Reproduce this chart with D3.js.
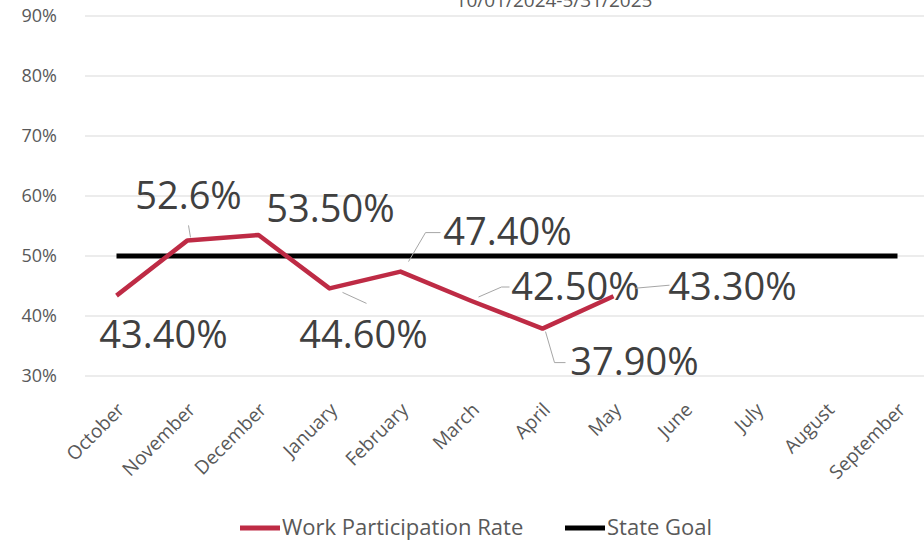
<!DOCTYPE html>
<html>
<head>
<meta charset="utf-8">
<script src="https://d3js.org/d3.v7.min.js"></script>
<style>
body { margin: 0; overflow: hidden; background: #fff; }
text { font-family: "Open Sans", sans-serif; }
.tick-y { font-size: 18px; fill: #595959; }
.tick-x { font-size: 19px; fill: #595959; }
.dlabel { font-size: 38px; fill: #404040; }
.leader { stroke: #a6a6a6; stroke-width: 1; fill: none; }
.legend text { font-size: 22px; fill: #595959; }
</style>
</head>
<body>
<svg width="924" height="542"></svg>
<script>
const months = ['October', 'November', 'December', 'January', 'February', 'March',
  'April', 'May', 'June', 'July', 'August', 'September'];
const rates = [0.434, 0.526, 0.535, 0.446, 0.474, 0.425, 0.379, 0.433];
const rateLabels = ['43.40%', '52.6%', '53.50%', '44.60%', '47.40%', '42.50%', '37.90%', '43.30%'];
const goal = [0.5, 0.5, 0.5, 0.5, 0.5, 0.5, 0.5, 0.5, 0.5, 0.5, 0.5, 0.5];
const yTicks = [0.3, 0.4, 0.5, 0.6, 0.7, 0.8, 0.9];
const subtitle = '10/01/2024-5/31/2025';

// label placement: offset of text centre/baseline from the point, plus leader polyline (relative)
const labelPos = [
  { dx: 47, dy: 52 },
  { dx: 1, dy: -31, leader: [[1, -15], [3, -3]] },
  { dx: 72, dy: -13 },
  { dx: 34, dy: 60, leader: [[13, 4], [37, 15]] },
  { dx: 107, dy: -27, leader: [[8, -10], [25, -39], [40, -39]] },
  { dx: 104, dy: -1, leader: [[7, -4], [30, -14], [38, -14]] },
  { dx: 92, dy: 46, leader: [[3, 3], [12, 34], [23, 34]] },
  { dx: 119, dy: 4, leader: [[22, -8], [56, -11]] }
];

const svg = d3.select('svg');
const W = 924;

const x = d3.scalePoint().domain(months).range([81, 933]).padding(0.5);
const y = d3.scaleLinear().domain([0.3, 0.9]).range([376, 16]);

svg.append('text')
  .attr('x', 554).attr('y', 7)
  .attr('text-anchor', 'middle')
  .attr('font-size', 19).attr('fill', '#595959')
  .text(subtitle);

// gridlines
svg.append('g').selectAll('line').data(yTicks).join('line')
  .attr('x1', 85).attr('x2', W)
  .attr('y1', d => y(d)).attr('y2', d => y(d))
  .attr('stroke', '#d9d9d9').attr('stroke-width', 1);

// y axis labels
svg.append('g').selectAll('text').data(yTicks).join('text')
  .attr('class', 'tick-y')
  .attr('x', 57).attr('y', d => y(d))
  .attr('dy', '0.35em')
  .attr('text-anchor', 'end')
  .text(d3.format('.0%'));

// x axis labels
svg.append('g').selectAll('text').data(months).join('text')
  .attr('class', 'tick-x')
  .attr('text-anchor', 'end')
  .attr('transform', d => `translate(${x(d) + 9},${411}) rotate(-45)`)
  .text(d => d);

const line = d3.line().x(d => x(d.m)).y(d => y(d.v));

svg.append('path')
  .datum(goal.map((v, i) => ({ m: months[i], v })))
  .attr('d', line)
  .attr('fill', 'none').attr('stroke', '#000').attr('stroke-width', 5);

const rateData = rates.map((v, i) => ({ m: months[i], v }));
svg.append('path')
  .datum(rateData)
  .attr('d', line)
  .attr('fill', 'none').attr('stroke', '#be2b45').attr('stroke-width', 4.5)
  .attr('stroke-linejoin', 'round');

// leaders and data labels
rateData.forEach((d, i) => {
  const px = x(d.m), py = y(d.v), p = labelPos[i];
  if (p.leader) {
    svg.append('polyline')
      .attr('class', 'leader')
      .attr('points', p.leader.map(q => [px + q[0], py + q[1]].join(',')).join(' '));
  }
  svg.append('text')
    .attr('class', 'dlabel')
    .attr('x', px + p.dx).attr('y', py + p.dy)
    .attr('text-anchor', 'middle')
    .text(rateLabels[i]);
});

// legend
const legend = svg.append('g').attr('class', 'legend');
const items = [
  { name: 'Work Participation Rate', color: '#be2b45', x: 240 },
  { name: 'State Goal', color: '#000', x: 565 }
];
items.forEach(it => {
  legend.append('line')
    .attr('x1', it.x).attr('x2', it.x + 40)
    .attr('y1', 528).attr('y2', 528)
    .attr('stroke', it.color).attr('stroke-width', 5);
  legend.append('text')
    .attr('x', it.x + 42).attr('y', 535)
    .text(it.name);
});
</script>
</body>
</html>
